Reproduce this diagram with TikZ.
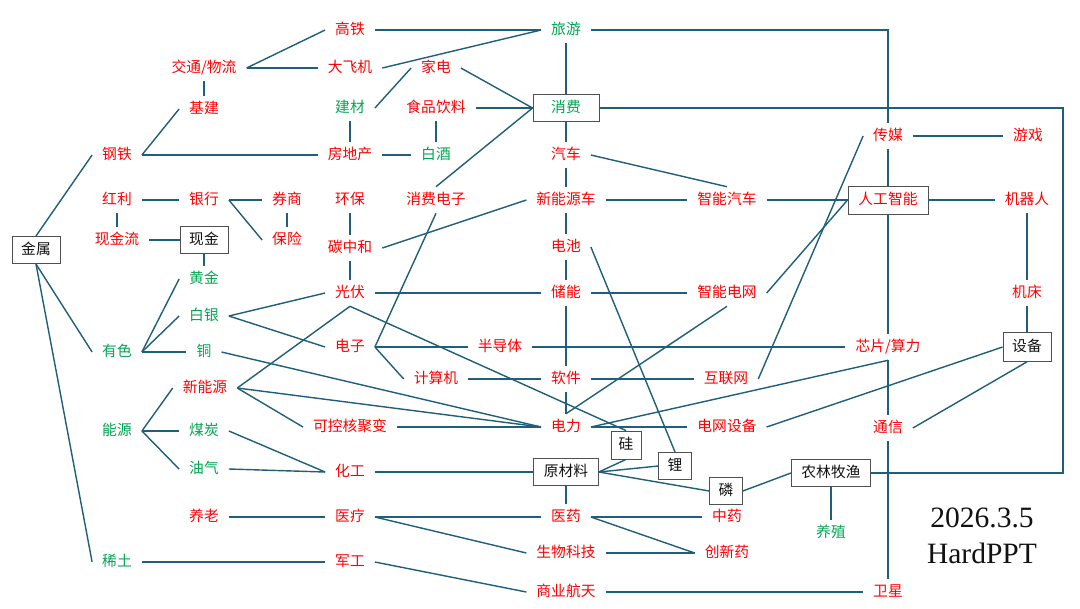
\documentclass[tikz,border=0pt]{standalone}
\usepackage{fontspec}
\usepackage{xcolor}
\usepackage{tikz}
\setmainfont{Liberation Serif}
\newfontfamily\cjk{Noto Sans CJK SC}
\definecolor{hotred}{HTML}{FF0000}
\definecolor{leaf}{HTML}{00A651}
\definecolor{wirec}{HTML}{1F5F7A}
\definecolor{frame}{HTML}{505050}
\definecolor{ink}{HTML}{111111}
\tikzset{
  lbl/.style={font=\cjk\fontsize{10.5}{12}\selectfont, inner xsep=7pt, inner ysep=4pt,
              text height=8.5pt, text depth=2pt},
  hot/.style={lbl, text=hotred},
  grn/.style={lbl, text=leaf},
  box/.style={lbl, inner xsep=3pt, draw=frame, line width=0.6pt, fill=white,
              minimum height=0.68cm, minimum width=1.2cm, text=ink},
  lnk/.style={draw=wirec, line width=1pt},
}

\begin{document}
\begin{tikzpicture}[x=0.025cm, y=-0.025cm]
  \useasboundingbox (0,0) rectangle (1080,608);

  % top band: travel / building / consumption
  \node[grn] (lvyou)    at (566,30)  {旅游};
  \node[hot] (gaotie)   at (350,30)  {高铁};
  \node[hot] (jiaotong) at (204,68)  {交通/物流};
  \node[hot] (dafeiji)  at (350,68)  {大飞机};
  \node[hot] (jiadian)  at (436,68)  {家电};
  \node[hot] (jijian)   at (204,109) {基建};
  \node[grn] (jiancai)  at (350,108) {建材};
  \node[hot] (shipin)   at (436,108) {食品饮料};
  \node[box, text=leaf, minimum width=1.65cm] (xiaofei) at (566,108) {消费};
  \node[hot] (gangtie)  at (117,155) {钢铁};
  \node[hot] (fdc)      at (350,155) {房地产};
  \node[grn] (baijiu)   at (436,155) {白酒};
  \node[hot] (qiche)    at (566,155) {汽车};
  \node[hot] (chuanmei) at (888,136) {传媒};
  \node[hot] (youxi)    at (1028,136) {游戏};

  % finance + tech rows
  \node[hot] (hongli)   at (117,200) {红利};
  \node[hot] (yinhang)  at (204,200) {银行};
  \node[hot] (quanshang) at (287,200) {券商};
  \node[hot] (huanbao)  at (350,200) {环保};
  \node[hot] (xfdz)     at (436,200) {消费电子};
  \node[hot] (xnyc)     at (566,200) {新能源车};
  \node[hot] (znqc)     at (727,200) {智能汽车};
  \node[box, text=hotred, minimum width=2cm, minimum height=0.7cm] (ai) at (888,200) {人工智能};
  \node[hot] (robot)    at (1027,200) {机器人};
  \node[hot] (xjl)      at (117,240) {现金流};
  \node[box] (cash)     at (204,240) {现金};
  \node[hot] (baoxian)  at (287,240) {保险};
  \node[hot] (tzh)      at (350,248) {碳中和};
  \node[hot] (dianchi)  at (566,247) {电池};
  \node[box] (metal)    at (36,250)  {金属};

  \node[grn] (gold)     at (204,279) {黄金};
  \node[hot] (pv)       at (350,293) {光伏};
  \node[hot] (chuneng)  at (566,293) {储能};
  \node[hot] (grid)     at (727,293) {智能电网};
  \node[hot] (jichuang) at (1027,293) {机床};
  \node[grn] (silver)   at (204,316) {白银};
  \node[grn] (youse)    at (117,352) {有色};
  \node[grn] (copper)   at (204,352) {铜};
  \node[hot] (dianzi)   at (350,347) {电子};
  \node[hot] (semi)     at (500,347) {半导体};
  \node[hot] (chip)     at (888,347) {芯片/算力};
  \node[box, minimum height=0.72cm] (equip) at (1027,347) {设备};
  \node[hot] (newen)    at (205,388) {新能源};
  \node[hot] (computer) at (436,379) {计算机};
  \node[hot] (software) at (566,379) {软件};
  \node[hot] (internet) at (726,379) {互联网};

  % energy / materials
  \node[grn] (energy)   at (117,431) {能源};
  \node[grn] (coal)     at (204,431) {煤炭};
  \node[hot] (fusion)   at (350,427) {可控核聚变};
  \node[hot] (power)    at (566,427) {电力};
  \node[hot] (gridequip) at (727,427) {电网设备};
  \node[hot] (telecom)  at (888,428) {通信};
  \node[box, minimum width=0.75cm, minimum height=0.7cm] (si) at (626,445) {硅};
  \node[box, minimum width=0.82cm] (li)   at (675,466) {锂};
  \node[grn] (oilgas)   at (204,469) {油气};
  \node[hot] (chem)     at (350,472) {化工};
  \node[box, minimum width=1.62cm] (raw)  at (566,472) {原材料};
  \node[box, minimum width=0.82cm] (phos) at (726,491) {磷};
  \node[box, minimum width=1.98cm] (agri) at (831,473) {农林牧渔};

  % health / defence
  \node[hot] (elder)    at (204,517) {养老};
  \node[hot] (medical)  at (350,517) {医疗};
  \node[hot] (pharma)   at (566,517) {医药};
  \node[hot] (tcm)      at (727,517) {中药};
  \node[grn] (breed)    at (831,533) {养殖};
  \node[grn] (rare)     at (117,562) {稀土};
  \node[hot] (military) at (350,562) {军工};
  \node[hot] (bio)      at (566,553) {生物科技};
  \node[hot] (innov)    at (727,553) {创新药};
  \node[hot] (space)    at (566,592) {商业航天};
  \node[hot] (sat)      at (888,592) {卫星};

  \node[font=\fontsize{21}{24}\selectfont, text=ink] (date)  at (982,518) {2026.3.5};
  \node[font=\fontsize{21}{24}\selectfont, text=ink] (brand) at (982,553) {HardPPT};

  \coordinate (rim) at (1063,473);

  % links, top band
  \draw[lnk] (gaotie.east) -- (lvyou.west);
  \draw[lnk] (dafeiji.east) -- (lvyou.west);
  \draw[lnk] (jiaotong.east) -- (gaotie.west);
  \draw[lnk] (jiaotong.east) -- (dafeiji.west);
  \draw[lnk] (jiaotong.south) -- (jijian.north);
  \draw[lnk] (jijian.west) -- (gangtie.east);
  \draw[lnk] (gangtie.east) -- (fdc.west);
  \draw[lnk] (fdc.north) -- (jiancai.south);
  \draw[lnk] (jiancai.east) -- (jiadian.west);
  \draw[lnk] (jiadian.east) -- (xiaofei.west);
  \draw[lnk] (shipin.east) -- (xiaofei.west);
  \draw[lnk] (shipin.south) -- (baijiu.north);
  \draw[lnk] (fdc.east) -- (baijiu.west);
  \draw[lnk] (xfdz.north) -- (xiaofei.west);
  \draw[lnk] (lvyou.south) -- (xiaofei.north);
  \draw[lnk] (lvyou.east) -| (chuanmei.north);
  \draw[lnk] (xiaofei.east) -| (rim) -- (agri.east);
  \draw[lnk] (xiaofei.south) -- (qiche.north);
  \draw[lnk] (qiche.south) -- (xnyc.north);
  \draw[lnk] (qiche.east) -- (znqc.north);
  \draw[lnk] (xnyc.east) -- (znqc.west);
  \draw[lnk] (znqc.east) -- (ai.west);
  \draw[lnk] (ai.east) -- (robot.west);
  \draw[lnk] (chuanmei.east) -- (youxi.west);
  \draw[lnk] (chuanmei.south) -- (ai.north);
  \draw[lnk] (robot.south) -- (jichuang.north);
  \draw[lnk] (jichuang.south) -- (equip.north);
  \draw[lnk] (ai.south) -- (chip.north);
  \draw[lnk] (chuanmei.west) -- (internet.east);
  \draw[lnk] (grid.east) -- (ai.west);

  % finance
  \draw[lnk] (hongli.east) -- (yinhang.west);
  \draw[lnk] (yinhang.east) -- (quanshang.west);
  \draw[lnk] (yinhang.east) -- (baoxian.west);
  \draw[lnk] (quanshang.south) -- (baoxian.north);
  \draw[lnk] (hongli.south) -- (xjl.north);
  \draw[lnk] (xjl.east) -- (cash.west);
  \draw[lnk] (cash.south) -- (gold.north);

  % green power + electronics
  \draw[lnk] (huanbao.south) -- (tzh.north);
  \draw[lnk] (tzh.south) -- (pv.north);
  \draw[lnk] (tzh.east) -- (xnyc.west);
  \draw[lnk] (xfdz.south) -- (dianzi.east);
  \draw[lnk] (dianzi.east) -- (computer.west);
  \draw[lnk] (dianzi.east) -- (semi.west);
  \draw[lnk] (semi.east) -- (chip.west);
  \draw[lnk] (xnyc.south) -- (dianchi.north);
  \draw[lnk] (dianchi.south) -- (chuneng.north);
  \draw[lnk] (chuneng.south) -- (software.north);
  \draw[lnk] (software.south) -- (power.north);
  \draw[lnk] (dianchi.east) -- (li.north);
  \draw[lnk] (pv.east) -- (chuneng.west);
  \draw[lnk] (chuneng.east) -- (grid.west);
  \draw[lnk] (pv.south) -- (si.north);
  \draw[lnk] (newen.east) -- (pv.south);
  \draw[lnk] (silver.east) -- (pv.west);
  \draw[lnk] (silver.east) -- (dianzi.west);
  \draw[lnk] (copper.east) -- (power.west);
  \draw[lnk] (newen.east) -- (power.west);
  \draw[lnk] (newen.east) -- (fusion.west);
  \draw[lnk] (fusion.east) -- (power.west);
  \draw[lnk] (computer.east) -- (software.west);
  \draw[lnk] (software.east) -- (internet.west);
  \draw[lnk] (grid.south) -- (power.north);
  \draw[lnk] (power.east) -- (gridequip.west);
  \draw[lnk] (power.east) -- (chip.south);
  \draw[lnk] (gridequip.east) -- (equip.west);
  \draw[lnk] (chip.south) -- (telecom.north);
  \draw[lnk] (telecom.south) -- (sat.north);
  \draw[lnk] (telecom.east) -- (equip.south);

  % metals + energy
  \draw[lnk] (youse.east) -- (gold.west);
  \draw[lnk] (youse.east) -- (silver.west);
  \draw[lnk] (youse.east) -- (copper.west);
  \draw[lnk] (metal.north) -- (gangtie.west);
  \draw[lnk] (metal.south) -- (youse.west);
  \draw[lnk] (metal.south) -- (rare.west);
  \draw[lnk] (energy.east) -- (newen.west);
  \draw[lnk] (energy.east) -- (coal.west);
  \draw[lnk] (energy.east) -- (oilgas.west);
  \draw[lnk] (coal.east) -- (chem.west);
  \draw[lnk] (oilgas.east) -- (chem.west);
  \draw[lnk] (chem.east) -- (raw.west);
  \draw[lnk] (raw.east) -- (si.south);
  \draw[lnk] (raw.east) -- (li.west);
  \draw[lnk] (raw.east) -- (phos.west);
  \draw[lnk] (phos.east) -- (agri.west);
  \draw[lnk] (agri.south) -- (breed.north);
  \draw[lnk] (raw.south) -- (pharma.north);

  % health + defence
  \draw[lnk] (elder.east) -- (medical.west);
  \draw[lnk] (medical.east) -- (pharma.west);
  \draw[lnk] (medical.east) -- (bio.west);
  \draw[lnk] (pharma.east) -- (tcm.west);
  \draw[lnk] (pharma.east) -- (innov.west);
  \draw[lnk] (bio.east) -- (innov.west);
  \draw[lnk] (rare.east) -- (military.west);
  \draw[lnk] (military.east) -- (space.west);
  \draw[lnk] (space.east) -- (sat.west);
\end{tikzpicture}
\end{document}
